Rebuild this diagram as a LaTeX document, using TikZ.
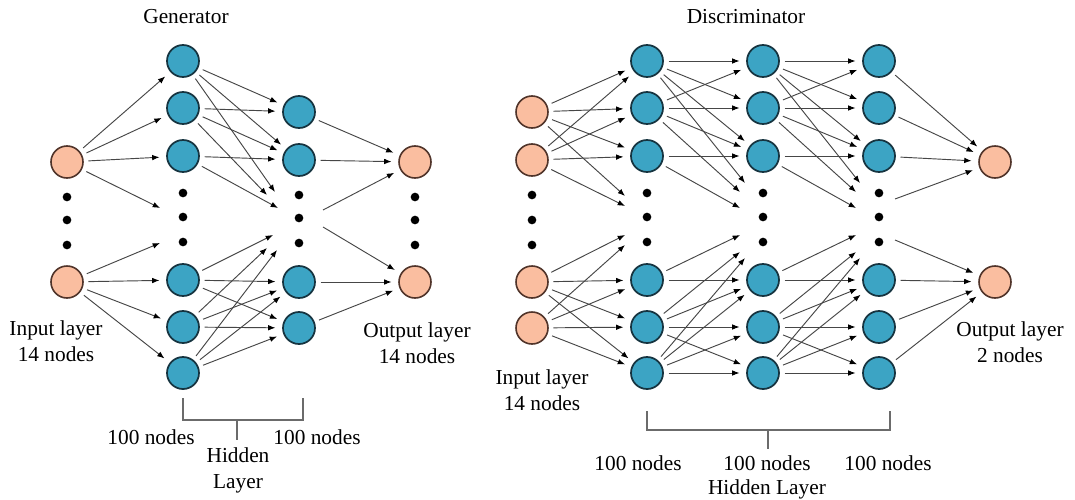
\documentclass[tikz,border=0pt]{standalone}
\usepackage{fontspec}
\setmainfont{Liberation Serif}
\usetikzlibrary{arrows.meta}
\definecolor{nblue}{RGB}{60,164,196}
\definecolor{nborder}{RGB}{22,52,64}
\definecolor{norange}{RGB}{250,190,160}
\definecolor{oborder}{RGB}{80,52,42}
\definecolor{lgray}{RGB}{70,70,70}
\begin{document}
\begin{tikzpicture}[x=0.75pt,y=-0.75pt,
  bnode/.style={circle,draw=nborder,fill=nblue,line width=1.3pt,minimum size=24pt,inner sep=0pt},
  onode/.style={circle,draw=oborder,fill=norange,line width=1.2pt,minimum size=24pt,inner sep=0pt},
  dotn/.style={circle,fill=black,minimum size=6.5pt,inner sep=0pt},
  conn/.style={draw=lgray,line width=0.7pt,-{Latex[length=5.5pt,width=4.2pt,color=black]},shorten <=3.5pt,shorten >=5pt},
  connc/.style={conn,shorten >=0pt},
  connf/.style={conn,shorten <=0pt},
  lbl/.style={font=\fontsize{16}{19.5}\selectfont,align=center,inner sep=0pt},
  brk/.style={draw=lgray!80,line width=0.8pt}]
\fill[white] (0,0) rectangle (1075,500);
\useasboundingbox (0,0) rectangle (1075,500);

% ================= Generator =================
\node[lbl] (gtitle) at (186,17) {Generator};
\node[onode] (gi1) at (67,162) {};
\node[onode] (gi2) at (67,282) {};
\node[bnode] (gh1a) at (183,61) {};
\node[bnode] (gh1b) at (183,108) {};
\node[bnode] (gh1c) at (183,156) {};
\node[bnode] (gh1d) at (183,280) {};
\node[bnode] (gh1e) at (183,327) {};
\node[bnode] (gh1f) at (183,373) {};
\node[bnode] (gh2a) at (299,112) {};
\node[bnode] (gh2b) at (299,160) {};
\node[bnode] (gh2c) at (299,282) {};
\node[bnode] (gh2d) at (299,328) {};
\node[onode] (go1) at (415,162) {};
\node[onode] (go2) at (415,282) {};
% dots
\foreach \y [count=\i] in {197,220,245} {
  \node[dotn] (gdi\i) at (67,\y) {};
  \node[dotn] (gdo\i) at (415,\y) {};
  \node[dotn] (gdh2\i) at (299,\y-2) {};
}
\foreach \y [count=\i] in {193,217,242} \node[dotn] (gdh1\i) at (183,\y) {};
% free ends
\coordinate (gt1u) at (160,208);
\coordinate (gt1l) at (160,243);
\coordinate (gt2u1) at (275,192);
\coordinate (gt2u2) at (267,195);
\coordinate (gt2u3) at (278,208);
\coordinate (gt2l1) at (273,235);
\coordinate (gt2l2) at (267,248);
\coordinate (gt2l3) at (277,250);
\coordinate (gs2u) at (323,210);
\coordinate (gs2l) at (323,227);
% input -> h1
\foreach \t in {gh1a,gh1b,gh1c} \draw[conn] (gi1) -- (\t);
\draw[connc] (gi1) -- (gt1u);
\draw[connc] (gi2) -- (gt1l);
\foreach \t in {gh1d,gh1e,gh1f} \draw[conn] (gi2) -- (\t);
% h1 -> h2
\draw[conn] (gh1a) -- (gh2a);
\draw[conn] (gh1a) -- (gh2b);
\draw[connc] (gh1a) -- (gt2u1);
\draw[conn] (gh1b) -- (gh2a);
\draw[conn] (gh1b) -- (gh2b);
\draw[connc] (gh1b) -- (gt2u2);
\draw[conn] (gh1c) -- (gh2b);
\draw[connc] (gh1c) -- (gt2u3);
\draw[connc] (gh1d) -- (gt2l1);
\draw[conn] (gh1d) -- (gh2c);
\draw[conn] (gh1d) -- (gh2d);
\draw[connc] (gh1e) -- (gt2l2);
\draw[conn] (gh1e) -- (gh2c);
\draw[conn] (gh1e) -- (gh2d);
\draw[connc] (gh1f) -- (gt2l3);
\draw[conn] (gh1f) -- (gh2c);
\draw[conn] (gh1f) -- (gh2d);
% h2 -> out
\draw[conn] (gh2a) -- (go1);
\draw[conn] (gh2b) -- (go1);
\draw[connf] (gs2u) -- (go1);
\draw[connf] (gs2l) -- (go2);
\draw[conn] (gh2c) -- (go2);
\draw[conn] (gh2d) -- (go2);
% labels
\node[lbl] (gin) at (56,341) {Input layer\\14 nodes};
\node[lbl] (gout) at (417,343) {Output layer\\14 nodes};
\coordinate (gb1) at (183,398);
\coordinate (gb2) at (303,398);
\coordinate (gbm) at (237,420);
\draw[brk] (gb1) |- (gbm) -| (gb2);
\draw[brk] (gbm) -- ++(0,20);
\node[lbl] (g100a) at (151,437) {100 nodes};
\node[lbl] (g100b) at (317,437) {100 nodes};
\node[lbl] (ghid) at (238,470) {Hidden\\Layer};

% ================= Discriminator =================
\node[lbl] (dtitle) at (746,17) {Discriminator};
\node[onode] (di1) at (532,112) {};
\node[onode] (di2) at (532,160) {};
\node[onode] (di3) at (532,282) {};
\node[onode] (di4) at (532,328) {};
\foreach \c/\x in {dh1/647,dh2/763,dh3/879} {
  \node[bnode] (\c a) at (\x,61) {};
  \node[bnode] (\c b) at (\x,108) {};
  \node[bnode] (\c c) at (\x,156) {};
  \node[bnode] (\c d) at (\x,280) {};
  \node[bnode] (\c e) at (\x,327) {};
  \node[bnode] (\c f) at (\x,373) {};
  \foreach \y [count=\i] in {193,217,242} \node[dotn] (\c dot\i) at (\x,\y) {};
}
\foreach \y [count=\i] in {195,220,245} \node[dotn] (ddi\i) at (532,\y) {};
\node[onode] (do1) at (995,162) {};
\node[onode] (do2) at (995,282) {};
% free ends
\coordinate (dt1u1) at (625,196);
\coordinate (dt1u2) at (625,206);
\coordinate (dt1l1) at (625,235);
\coordinate (dt1l2) at (625,245);
\coordinate (dt2u1) at (745,183);
\coordinate (dt2u2) at (740,192);
\coordinate (dt2u3) at (740,208);
\coordinate (dt2l1) at (740,235);
\coordinate (dt2l2) at (740,252);
\coordinate (dt2l3) at (745,258);
\coordinate (dt3u1) at (860,183);
\coordinate (dt3u2) at (856,192);
\coordinate (dt3u3) at (856,208);
\coordinate (dt3l1) at (856,235);
\coordinate (dt3l2) at (856,252);
\coordinate (dt3l3) at (860,258);
\coordinate (ds3u) at (895,199);
\coordinate (ds3l) at (895,240);
% input -> h1
\foreach \t in {dh1a,dh1b,dh1c} {\draw[conn] (di1) -- (\t); \draw[conn] (di2) -- (\t);}
\draw[connc] (di1) -- (dt1u1);
\draw[connc] (di2) -- (dt1u2);
\draw[connc] (di3) -- (dt1l1);
\draw[connc] (di4) -- (dt1l2);
\foreach \t in {dh1d,dh1e,dh1f} {\draw[conn] (di3) -- (\t); \draw[conn] (di4) -- (\t);}
% h1 -> h2 and h2 -> h3
\foreach \s/\d/\k in {dh1/dh2/2,dh2/dh3/3} {
  \draw[conn] (\s a) -- (\d a);
  \draw[conn] (\s a) -- (\d b);
  \draw[conn] (\s a) -- (\d c);
  \draw[connc] (\s a) -- (dt\k u1);
  \draw[conn] (\s b) -- (\d a);
  \draw[conn] (\s b) -- (\d b);
  \draw[conn] (\s b) -- (\d c);
  \draw[connc] (\s b) -- (dt\k u2);
  \draw[conn] (\s c) -- (\d c);
  \draw[connc] (\s c) -- (dt\k u3);
  \draw[conn] (\s d) -- (\d d);
  \draw[connc] (\s d) -- (dt\k l1);
  \draw[conn] (\s e) -- (\d d);
  \draw[conn] (\s e) -- (\d e);
  \draw[conn] (\s e) -- (\d f);
  \draw[connc] (\s e) -- (dt\k l2);
  \draw[conn] (\s f) -- (\d d);
  \draw[conn] (\s f) -- (\d e);
  \draw[conn] (\s f) -- (\d f);
  \draw[connc] (\s f) -- (dt\k l3);
}
% h3 -> out
\foreach \t in {dh3a,dh3b,dh3c} \draw[conn] (\t) -- (do1);
\draw[connf] (ds3u) -- (do1);
\draw[connf] (ds3l) -- (do2);
\foreach \t in {dh3d,dh3e,dh3f} \draw[conn] (\t) -- (do2);
% labels
\node[lbl] (din) at (542,390) {Input layer\\14 nodes};
\node[lbl] (dout) at (1010,342) {Output layer\\2 nodes};
\coordinate (db1) at (647,411);
\coordinate (db2) at (890,411);
\coordinate (dbm) at (768,430);
\draw[brk] (db1) |- (dbm) -| (db2);
\draw[brk] (dbm) -- ++(0,19);
\node[lbl] (d100a) at (638,463) {100 nodes};
\node[lbl] (d100b) at (767,463) {100 nodes};
\node[lbl] (d100c) at (888,463) {100 nodes};
\node[lbl] (dhid) at (767,489) {Hidden Layer};
\end{tikzpicture}
\end{document}
